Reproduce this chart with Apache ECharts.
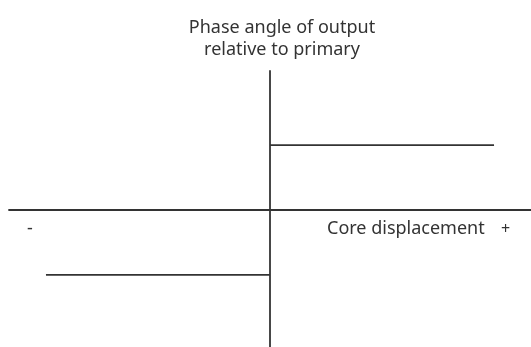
<!DOCTYPE html>
<html>
<head>
    <meta charset="utf-8">
    <title>Phase angle vs core displacement</title>
    <script type="text/javascript" src="https://cdn.jsdelivr.net/npm/echarts@6/dist/echarts.min.js"></script>
</head>
<body style="margin:0">
    <div id="main" style="width:531px; height:347px;"></div>
    <script type="text/javascript">
    // 数据：铁芯位移 -> 输出相对初级的相位角（阶跃，两段）
    var negDisplacement = [-1, 0];
    var negPhase = [-1, -1];
    var posDisplacement = [0, 1];
    var posPhase = [1, 1];
    var titleLines = ['Phase angle of output', 'relative to primary'];
    var xName = 'Core displacement';
    var minusLabel = '-';
    var plusLabel = '+';

    function pairs(xs, ys) {
        return xs.map(function (x, i) { return [x, ys[i]]; });
    }

    var myChart = echarts.init(document.getElementById('main'));

    var lineColor = '#333';
    var textFont = '"Noto Sans", "Noto Sans CJK KR", sans-serif';

    option = {
        animation: false,
        backgroundColor: '#fff',
        title: {
            text: titleLines.join('\n'),
            left: 277,
            top: 12,
            textAlign: 'center',
            textStyle: {
                fontFamily: textFont,
                fontWeight: 'normal',
                fontSize: 18,
                lineHeight: 22,
                color: '#333'
            }
        },
        grid: {
            left: 9,
            right: 0,
            top: 71,
            bottom: 0
        },
        xAxis: {
            type: 'value',
            min: -1.165,
            max: 1.165,
            axisLine: { onZero: true, lineStyle: { color: lineColor, width: 1.8 } },
            axisTick: { show: false },
            axisLabel: { show: false },
            splitLine: { show: false }
        },
        yAxis: {
            type: 'value',
            min: -2.11,
            max: 2.14,
            axisLine: { onZero: true, lineStyle: { color: lineColor, width: 1.8 } },
            axisTick: { show: false },
            axisLabel: { show: false },
            splitLine: { show: false }
        },
        graphic: [
            {
                type: 'text', left: 27, top: 220,
                style: { text: minusLabel, font: '18px ' + textFont, fill: '#333' }
            },
            {
                type: 'text', left: 327, top: 220,
                style: { text: xName, font: '18px ' + textFont, fill: '#333' }
            },
            {
                type: 'text', left: 501, top: 221,
                style: { text: plusLabel, font: '16px ' + textFont, fill: '#333' }
            }
        ],
        series: [
            {
                type: 'line',
                data: pairs(negDisplacement, negPhase),
                symbol: 'none',
                lineStyle: { color: lineColor, width: 1.8 }
            },
            {
                type: 'line',
                data: pairs(posDisplacement, posPhase),
                symbol: 'none',
                lineStyle: { color: lineColor, width: 1.8 }
            }
        ]
    };

    myChart.setOption(option);
    </script>
</body>
</html>
